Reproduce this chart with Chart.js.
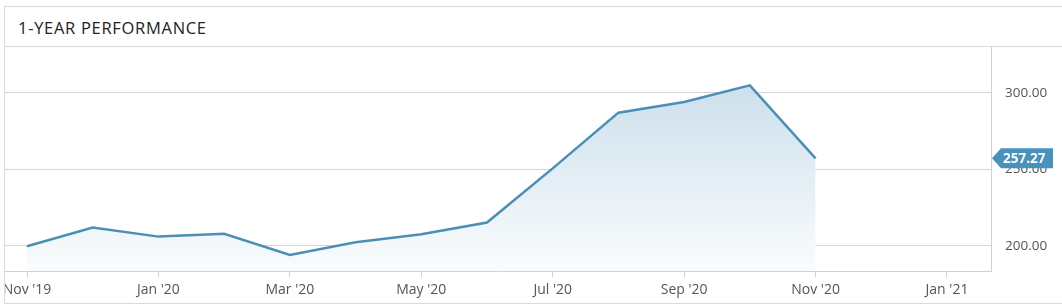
<!DOCTYPE html>
<html>
<head>
<meta charset="utf-8">
<script src="https://cdn.jsdelivr.net/npm/chart.js@4"></script>
<style>
  body { margin: 0; background: #fff; font-family: "Open Sans", sans-serif; }
  #panel { position: absolute; left: 4px; top: 6px; width: 1070px; height: 296px;
           border: 1px solid #d9d9d9; overflow: hidden; }
  #title { height: 40px; border-bottom: 1px solid #d9d9d9; box-sizing: border-box;
           padding: 9px 0 0 13px; font-size: 16.5px; letter-spacing: 0.7px; color: #222; }
  #wrap { position: absolute; left: 0; top: 40px; width: 1057px; height: 255px; }
</style>
</head>
<body>
<div id="panel">
  <div id="title">1-YEAR PERFORMANCE</div>
  <div id="wrap"><canvas id="myChart"></canvas></div>
</div>
<script>
// monthly closes, Nov '19 .. Nov '20
const months = ["Nov '19", "Dec '19", "Jan '20", "Feb '20", "Mar '20", "Apr '20", "May '20",
  "Jun '20", "Jul '20", "Aug '20", "Sep '20", "Oct '20", "Nov '20", "Dec '20", "Jan '21"];
const prices = [199.8, 212.0, 206.1, 207.9, 194.1, 202.4, 207.7, 215.3, 250.7, 287.1, 294.1, 304.9, 257.27];
const xTicks = [0, 2, 4, 6, 8, 10, 12, 14];
const yTicks = [200, 250, 300];
const lastLabel = "257.27";

const lineColor = '#4b8fb6';

const badgePlugin = {
  id: 'badge',
  afterDraw(chart) {
    const ctx = chart.ctx;
    const y = chart.scales.y.getPixelForValue(prices[prices.length - 1]);
    const x0 = chart.chartArea.right + 1;
    ctx.save();
    ctx.fillStyle = '#4a92be';
    ctx.beginPath();
    ctx.moveTo(x0, y);
    ctx.lineTo(x0 + 9, y - 10);
    ctx.lineTo(x0 + 61, y - 10);
    ctx.lineTo(x0 + 61, y + 10);
    ctx.lineTo(x0 + 9, y + 10);
    ctx.closePath();
    ctx.fill();
    ctx.fillStyle = '#fff';
    ctx.font = 'bold 13.5px "Open Sans"';
    ctx.textBaseline = 'middle';
    ctx.fillText(lastLabel, x0 + 11, y + 1);
    ctx.restore();
  }
};

const ctx = document.getElementById('myChart').getContext('2d');
new Chart(ctx, {
  type: 'line',
  data: {
    datasets: [{
      data: prices.map((v, i) => ({ x: i, y: v })),
      borderColor: lineColor,
      borderWidth: 2.5,
      pointRadius: 0,
      tension: 0,
      fill: 'start',
      backgroundColor: function (c) {
        const area = c.chart.chartArea;
        if (!area) return 'rgba(200,221,234,0.5)';
        const g = c.chart.ctx.createLinearGradient(0, area.top, 0, area.bottom);
        g.addColorStop(0, 'rgb(195,218,233)');
        g.addColorStop(1, 'rgb(250,252,253)');
        return g;
      }
    }]
  },
  options: {
    responsive: true,
    maintainAspectRatio: false,
    animation: false,
    layout: { padding: 0 },
    plugins: { legend: { display: false }, tooltip: { enabled: false } },
    scales: {
      x: {
        type: 'linear',
        min: -0.335,
        max: 14.67,
        afterBuildTicks: s => { s.ticks = xTicks.map(v => ({ value: v })); },
        afterFit: s => { s.paddingLeft = 0; s.paddingRight = 0; },
        grid: { drawOnChartArea: false, drawTicks: true, tickLength: 6, color: '#d0d0d0' },
        border: { display: true, color: '#d0d0d0' },
        ticks: {
          autoSkip: false,
          maxRotation: 0,
          padding: 4,
          color: '#555',
          font: { family: 'Open Sans', size: 14 },
          callback: v => months[v]
        }
      },
      y: {
        position: 'right',
        min: 183.5,
        max: 330,
        afterBuildTicks: s => { s.ticks = yTicks.map(v => ({ value: v })); },
        afterFit: s => { s.width = 71; s.paddingTop = 0; s.paddingBottom = 0; },
        grid: { drawTicks: false, color: '#d6d6d6' },
        border: { display: true, color: '#d0d0d0' },
        ticks: {
          padding: 14,
          color: '#555',
          font: { family: 'Open Sans', size: 13.5 },
          callback: v => v.toFixed(2)
        }
      }
    }
  },
  plugins: [badgePlugin]
});
</script>
</body>
</html>
